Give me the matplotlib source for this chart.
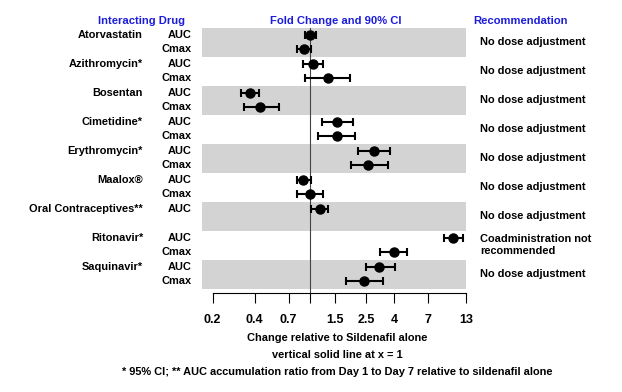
import numpy as np
import matplotlib
matplotlib.use('Agg')
import matplotlib.pyplot as plt
from matplotlib.transforms import blended_transform_factory

plt.rcParams['font.family'] = ['Liberation Sans', 'DejaVu Sans']
plt.rcParams['font.weight'] = 'bold'

# data
drugs = ['Atorvastatin', 'Azithromycin*', 'Bosentan', 'Cimetidine*', 'Erythromycin*',
         'Maalox\u00ae', 'Oral Contraceptives**', 'Ritonavir*', 'Saquinavir*']
params = [['AUC', 'Cmax'], ['AUC', 'Cmax'], ['AUC', 'Cmax'], ['AUC', 'Cmax'], ['AUC', 'Cmax'],
          ['AUC', 'Cmax'], ['AUC'], ['AUC', 'Cmax'], ['AUC', 'Cmax']]
ratio = [[1.00, 0.90], [1.05, 1.33], [0.37, 0.44], [1.56, 1.55], [2.84, 2.60],
         [0.89, 1.00], [1.17], [10.5, 3.96], [3.10, 2.42]]
lower = [[0.92, 0.80], [0.88, 0.92], [0.32, 0.334], [1.21, 1.14], [2.21, 1.95],
         [0.80, 0.80], [1.02], [8.98, 3.17], [2.49, 1.79]]
upper = [[1.10, 1.02], [1.24, 1.93], [0.43, 0.595], [2.03, 2.09], [3.69, 3.57],
         [1.02, 1.24], [1.34], [12.45, 4.92], [4.02, 3.30]]
recs = ['No dose adjustment'] * 7 + ['Coadministration not\nrecommended', 'No dose adjustment']
xticks = [0.2, 0.4, 0.7, 1, 1.5, 2.5, 4, 7, 13]
xticklabels = ['0.2', '0.4', '0.7', '', '1.5', '2.5', '4', '7', '13']

W, H = 622, 392
fs = 7.9
fig = plt.figure(figsize=(W / 100, H / 100), dpi=100)
ax_left, ax_right = 202, 466
ax_top, ax_bot = 27.75, 293
ax = fig.add_axes([ax_left / W, 1 - ax_bot / H, (ax_right - ax_left) / W, (ax_bot - ax_top) / H])

ax.set_xscale('log')
ax.set_xlim(0.168, 12.9)
ax.set_ylim(17.8, -0.5)

trans = blended_transform_factory(fig.transFigure, ax.transData)

for g in range(len(drugs)):
    y0 = 2 * g
    if g % 2 == 0:
        ax.axhspan(y0 - 0.5, y0 + 1.5, color='#d3d3d3', lw=0, zorder=0)
    ax.text(143 / W, y0, drugs[g], transform=trans, ha='right', va='center', fontsize=fs)
    for k in range(len(params[g])):
        y = y0 + k
        ax.text(192 / W, y, params[g][k], transform=trans, ha='right', va='center', fontsize=fs)
        r = ratio[g][k]
        ax.errorbar([r], [y], xerr=[[r - lower[g][k]], [upper[g][k] - r]], fmt='o', color='black',
                    ms=6.5, elinewidth=1.5, capsize=3.2, capthick=1.5, zorder=3, clip_on=False)
    ax.text(480 / W, y0 + 0.5, recs[g], transform=trans, ha='left', va='center',
            fontsize=fs, linespacing=1.25)

ax.axvline(1, color='#444444', lw=0.8, zorder=1)

for s in ['top', 'left', 'right']:
    ax.spines[s].set_visible(False)
ax.spines['bottom'].set_bounds(0.2, 13)
ax.spines['bottom'].set_linewidth(0.8)
ax.set_yticks([])
ax.set_xticks(xticks)
ax.set_xticklabels(xticklabels, fontsize=9, fontweight='bold')
ax.xaxis.set_minor_locator(matplotlib.ticker.NullLocator())
ax.tick_params(axis='x', direction='out', length=7, width=0.8, pad=8)

blue = '#1c1cdc'
fig.text(141 / W, 1 - 21 / H, 'Interacting Drug', color=blue, ha='center', va='center', fontsize=8.1)
fig.text(336 / W, 1 - 21 / H, 'Fold Change and 90% CI', color=blue, ha='center', va='center', fontsize=8.1)
fig.text(520 / W, 1 - 21 / H, 'Recommendation', color=blue, ha='center', va='center', fontsize=8.1)

fig.text(337 / W, 1 - 338 / H, 'Change relative to Sildenafil alone', ha='center', va='center', fontsize=fs)
fig.text(337 / W, 1 - 355 / H, 'vertical solid line at x = 1', ha='center', va='center', fontsize=fs)
fig.text(337 / W, 1 - 372 / H, '* 95% CI; ** AUC accumulation ratio from Day 1 to Day 7 relative to sildenafil alone',
         ha='center', va='center', fontsize=fs)

fig.savefig('out.png', dpi=100)
